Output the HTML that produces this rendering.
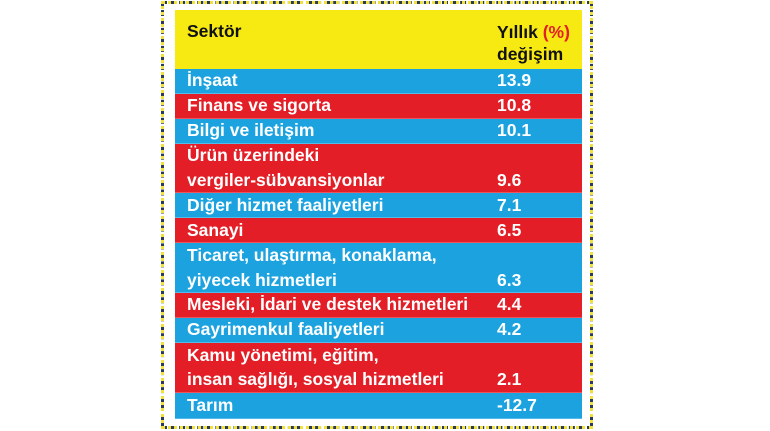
<!DOCTYPE html>
<html><head><meta charset="utf-8"><style>
body{margin:0;width:770px;height:431px;background:#fff;position:relative;overflow:hidden;font-family:"Liberation Sans",sans-serif;}
.frame{position:absolute;left:161px;top:1px;width:432px;height:428px;box-sizing:border-box;border:3px dashed #2c3a5a;outline:3px dotted #f0e23a;outline-offset:-3px;}
.t{position:absolute;left:175px;top:10px;width:407px;}
.r{position:relative;box-sizing:border-box;color:#fff;font-weight:bold;font-size:17.5px;line-height:24.5px;height:24.9px;border-bottom:1px solid rgba(255,255,255,0.25)}
.r.d{height:49.8px}
.b{background:#1ca3df}.e{background:#e31e26}
.n{position:absolute;left:12px;bottom:0;white-space:nowrap}
.v{position:absolute;left:322px;bottom:0}
.h{background:#f7ea13;height:59px;color:#111;font-weight:bold;font-size:17.5px;position:relative}
</style></head><body>
<div class="frame"></div>
<div class="t">
<div class="h"><div style="position:absolute;left:12px;top:11px">Sektör</div><div style="position:absolute;left:322px;top:11px;line-height:22px">Yıllık <span style="color:#e31e26">(%)</span><br>değişim</div></div>
<div class="r b"><span class="n">İnşaat</span><span class="v">13.9</span></div>
<div class="r e"><span class="n">Finans ve sigorta</span><span class="v">10.8</span></div>
<div class="r b"><span class="n">Bilgi ve iletişim</span><span class="v">10.1</span></div>
<div class="r e d"><span class="n">Ürün üzerindeki<br>vergiler-sübvansiyonlar</span><span class="v">9.6</span></div>
<div class="r b"><span class="n">Diğer hizmet faaliyetleri</span><span class="v">7.1</span></div>
<div class="r e"><span class="n">Sanayi</span><span class="v">6.5</span></div>
<div class="r b d"><span class="n">Ticaret, ulaştırma, konaklama,<br>yiyecek hizmetleri</span><span class="v">6.3</span></div>
<div class="r e"><span class="n">Mesleki, İdari ve destek hizmetleri</span><span class="v">4.4</span></div>
<div class="r b"><span class="n">Gayrimenkul faaliyetleri</span><span class="v">4.2</span></div>
<div class="r e d"><span class="n">Kamu yönetimi, eğitim,<br>insan sağlığı, sosyal hizmetleri</span><span class="v">2.1</span></div>
<div class="r b" style="height:26px"><span class="n">Tarım</span><span class="v">-12.7</span></div>
</div>
</body></html>
